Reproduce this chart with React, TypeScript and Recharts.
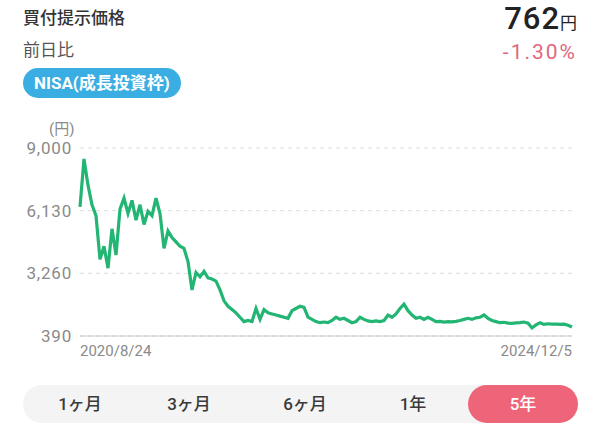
import React from 'react';
import { LineChart, Line, XAxis, YAxis, CartesianGrid } from 'recharts';

const prices = [
  6300, 8500, 7300, 6400, 5900, 3900, 4500, 3500, 5300, 4100,
  6200, 6700, 6000, 6600, 5700, 6400, 5500, 6100, 5900, 6700,
  6000, 4400, 5200, 4900, 4700, 4500, 4400, 3800, 2500, 3300,
  3100, 3350, 3050, 3000, 2900, 2500, 2000, 1750, 1600, 1450,
  1250, 1050, 1100, 1050, 1650, 1150, 1600, 1450, 1400, 1350,
  1300, 1250, 1200, 1550, 1650, 1750, 1700, 1250, 1150, 1050,
  1000, 1030, 1000, 1100, 1250, 1150, 1200, 1100, 1000, 1050,
  1250, 1150, 1080, 1050, 1080, 1050, 1100, 1350, 1250, 1400,
  1650, 1850, 1550, 1350, 1200, 1250, 1150, 1250, 1150, 1050,
  1060, 1030, 1050, 1040, 1060, 1100, 1150, 1200, 1150, 1220,
  1250, 1350, 1200, 1100, 1050, 1000, 1020, 980, 970, 990,
  1000, 1030, 980, 760, 900, 1000, 920, 950, 930, 940,
  920, 930, 880, 800,
];
const dateLabels = ['2020/8/24', '2024/12/5'];
const yTicks = [390, 3260, 6130, 9000];
const periods = ['1ヶ月', '3ヶ月', '6ヶ月', '1年', '5年'];
const activePeriod = '5年';

const data = prices.map((price, i) => ({ i, price }));
const lastIndex = prices.length - 1;

const FONT = "Roboto, 'Noto Sans CJK JP', sans-serif";

const DateTick = (props: any) => {
  const { x, y, payload } = props;
  const isFirst = payload.value === 0;
  return (
    <text
      x={x}
      y={y + 12}
      textAnchor={isFirst ? 'start' : 'end'}
      fill="#8a8a8a"
      fontSize={15}
      fontFamily={FONT}
    >
      {isFirst ? dateLabels[0] : dateLabels[1]}
    </text>
  );
};

const PriceTick = (props: any) => {
  const { x, y, payload } = props;
  return (
    <text
      x={x}
      y={y}
      dy={6}
      textAnchor="end"
      fill="#8a8a8a"
      fontSize={17}
      letterSpacing={0.8}
      fontFamily={FONT}
    >
      {payload.value.toLocaleString('en-US')}
    </text>
  );
};

const App: React.FC = () => {
  return (
    <div
      style={{
        position: 'absolute',
        left: 0,
        top: 0,
        width: 603,
        height: 425,
        background: '#fff',
        fontFamily: FONT,
        overflow: 'hidden',
      }}
    >
      <div style={{ position: 'absolute', left: 23, top: 6, fontSize: 17, lineHeight: '24px', fontWeight: 500, color: '#333' }}>
        買付提示価格
      </div>
      <div style={{ position: 'absolute', right: 26, top: 2, lineHeight: '34px', color: '#222' }}>
        <span style={{ fontSize: 31, fontWeight: 500, letterSpacing: 1 }}>762</span>
        <span style={{ fontSize: 17 }}>円</span>
      </div>
      <div style={{ position: 'absolute', left: 23, top: 38, fontSize: 17, lineHeight: '24px', color: '#555' }}>
        前日比
      </div>
      <div
        style={{
          position: 'absolute',
          right: 26,
          top: 39,
          fontSize: 21,
          lineHeight: '26px',
          letterSpacing: 2,
          color: '#e0687e',
        }}
      >
        -1.30%
      </div>
      <div
        style={{
          position: 'absolute',
          left: 23,
          top: 68,
          height: 30,
          padding: '0 11px',
          borderRadius: 15,
          background: '#3aaee3',
          color: '#fff',
          fontSize: 17,
          fontWeight: 700,
          lineHeight: '30px',
        }}
      >
        NISA(成長投資枠)
      </div>
      <div style={{ position: 'absolute', left: 49, top: 117, fontSize: 15, color: '#8a8a8a' }}>
        (円)
      </div>

      <div style={{ position: 'absolute', left: 0, top: 110 }}>
        <LineChart
          width={603}
          height={265}
          data={data}
          margin={{ top: 38, right: 31, left: 0, bottom: 0 }}
        >
          <CartesianGrid vertical={false} strokeDasharray="4 4" stroke="#dcdcdc" />
          <XAxis
            dataKey="i"
            type="number"
            domain={[0, lastIndex]}
            ticks={[0, lastIndex]}
            tick={<DateTick />}
            tickLine={false}
            axisLine={{ stroke: '#c8c8c8' }}
            height={39}
          />
          <YAxis
            domain={[390, 9000]}
            ticks={yTicks}
            width={80}
            tickSize={0}
            tickMargin={8}
            tickLine={false}
            axisLine={false}
            tick={<PriceTick />}
          />
          <Line
            type="linear"
            dataKey="price"
            stroke="#22b573"
            strokeWidth={3.2}
            dot={false}
            isAnimationActive={false}
          />
        </LineChart>
      </div>

      <div
        style={{
          position: 'absolute',
          left: 23,
          top: 385,
          width: 555,
          height: 38,
          borderRadius: 19,
          background: '#f4f4f4',
        }}
      >
        {periods.map((p, idx) => {
          const active = p === activePeriod;
          const centers = [57, 166, 282, 390, 501];
          return (
            <div
              key={p}
              style={{
                position: 'absolute',
                left: active ? 445 : centers[idx] - 50,
                width: active ? 110 : 100,
                top: 0,
                height: 38,
                borderRadius: 19,
                background: active ? '#ee6478' : 'transparent',
                color: active ? '#fff' : '#3a3a3a',
                fontSize: 17,
                fontWeight: 500,
                lineHeight: '38px',
                textAlign: 'center',
              }}
            >
              {p}
            </div>
          );
        })}
      </div>
    </div>
  );
};

export default App;
